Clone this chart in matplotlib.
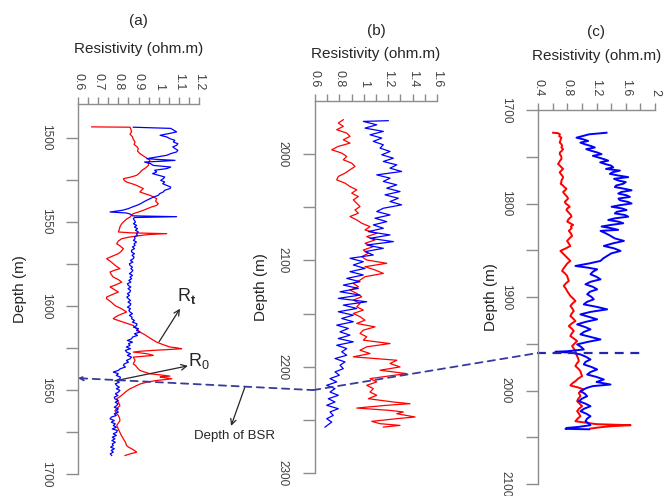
import numpy as np
import matplotlib
matplotlib.use('Agg')
import matplotlib.pyplot as plt
from matplotlib.patches import ConnectionPatch

plt.rcParams['font.family'] = ['Liberation Sans', 'DejaVu Sans']
plt.rcParams['mathtext.fontset'] = 'custom'
plt.rcParams['mathtext.rm'] = 'Liberation Sans'
plt.rcParams['mathtext.bf'] = 'Liberation Sans:bold'

# ---- well (a): (depth m, resistivity ohm.m)
a_rt = [(1493.6, 0.668), (1493.8, 0.858), (1495.0, 0.862), (1496.5, 0.866), (1498.0, 0.858), (1499.5, 0.870),
        (1501.0, 0.874), (1502.6, 0.883), (1504.0, 0.878), (1505.5, 0.893), (1506.5, 0.899), (1508.0, 0.895),
        (1509.5, 0.907), (1510.5, 0.920), (1511.5, 0.932), (1512.5, 0.945), (1513.5, 0.957), (1515.0, 0.950),
        (1516.5, 0.949), (1518.0, 0.935), (1519.5, 0.916), (1521.0, 0.905), (1522.4, 0.891), (1523.5, 0.860),
        (1524.4, 0.825), (1525.5, 0.830), (1526.4, 0.841), (1527.5, 0.870), (1528.4, 0.891), (1529.5, 0.910),
        (1530.3, 0.924), (1531.3, 0.915), (1532.3, 0.907), (1533.3, 0.930), (1534.3, 0.957), (1535.3, 0.975),
        (1536.3, 0.990), (1537.8, 0.985), (1539.3, 0.998), (1540.3, 0.990), (1541.2, 0.965), (1542.2, 0.945),
        (1543.2, 0.924), (1544.2, 0.900), (1545.2, 0.874), (1546.2, 0.865), (1547.2, 0.858), (1548.5, 0.840),
        (1550.2, 0.825), (1551.5, 0.815), (1553.1, 0.808), (1554.5, 0.805), (1556.1, 0.800), (1556.6, 0.860),
        (1557.1, 1.040), (1557.6, 0.950), (1558.1, 0.916), (1559.0, 0.860), (1560.1, 0.817), (1561.5, 0.800),
        (1563.1, 0.792), (1564.5, 0.810), (1566.0, 0.825), (1567.5, 0.815), (1569.0, 0.800), (1570.5, 0.770),
        (1572.0, 0.742), (1573.5, 0.760), (1575.0, 0.775), (1576.5, 0.790), (1577.9, 0.808), (1578.9, 0.780),
        (1579.9, 0.759), (1581.4, 0.765), (1582.9, 0.775), (1584.4, 0.800), (1585.9, 0.817), (1587.4, 0.790),
        (1588.8, 0.759), (1590.3, 0.780), (1591.8, 0.800), (1593.3, 0.770), (1594.8, 0.742), (1595.8, 0.742),
        (1597.8, 0.765), (1599.8, 0.783), (1601.7, 0.815), (1603.7, 0.841), (1604.7, 0.820), (1605.7, 0.800),
        (1606.7, 0.785), (1607.7, 0.775), (1608.7, 0.800), (1609.7, 0.825), (1610.7, 0.850), (1611.7, 0.874),
        (1613.6, 0.890), (1615.6, 0.907), (1617.1, 0.930), (1618.6, 0.949), (1620.1, 0.970), (1621.6, 0.990),
        (1623.0, 1.020), (1624.5, 1.056), (1625.0, 1.090), (1625.5, 1.114), (1626.0, 1.050), (1626.5, 0.973),
        (1627.0, 0.910), (1627.5, 0.874), (1628.0, 0.910), (1628.5, 0.941), (1629.0, 0.960), (1629.5, 0.973),
        (1630.0, 0.920), (1630.5, 0.874), (1631.5, 0.879), (1632.5, 0.883), (1633.5, 0.878), (1634.5, 0.874),
        (1635.5, 0.885), (1636.4, 0.891), (1637.4, 0.898), (1638.4, 0.907), (1639.4, 0.930), (1640.4, 0.957),
        (1641.1, 1.010), (1641.8, 1.056), (1642.1, 1.020), (1642.4, 1.007), (1642.9, 1.040), (1643.4, 1.065),
        (1644.4, 0.990), (1645.4, 0.941), (1646.4, 0.910), (1647.4, 0.891), (1648.4, 0.875), (1649.3, 0.858),
        (1650.8, 0.840), (1652.3, 0.825), (1653.8, 0.810), (1655.3, 0.792), (1657.3, 0.800), (1659.3, 0.808),
        (1660.8, 0.795), (1662.3, 0.783), (1663.8, 0.790), (1665.2, 0.800), (1666.7, 0.806), (1668.2, 0.808),
        (1669.7, 0.800), (1671.2, 0.792), (1673.2, 0.800), (1675.1, 0.808), (1677.1, 0.815), (1679.1, 0.825),
        (1681.1, 0.835), (1683.1, 0.841), (1684.0, 0.850), (1685.0, 0.866), (1686.0, 0.880), (1687.0, 0.891),
        (1688.0, 0.860), (1689.0, 0.833)]

a_r0 = [(1493.8, 0.874), (1494.5, 1.060), (1496.6, 1.089), (1497.6, 1.050), (1498.6, 1.007), (1499.6, 1.040),
        (1500.6, 1.056), (1501.6, 1.080), (1502.6, 1.073), (1503.6, 1.095), (1504.6, 1.089), (1505.5, 1.070),
        (1506.5, 1.081), (1507.5, 1.095), (1508.5, 1.089), (1509.5, 1.060), (1510.5, 1.040), (1511.5, 0.990),
        (1512.5, 0.941), (1513.0, 1.000), (1513.5, 1.081), (1514.0, 1.020), (1514.5, 0.930), (1515.5, 0.960),
        (1516.5, 0.973), (1517.5, 1.060), (1518.4, 1.040), (1519.4, 0.980), (1520.4, 0.990), (1521.4, 0.970),
        (1522.4, 1.000), (1523.4, 1.030), (1524.4, 1.023), (1525.4, 1.010), (1526.4, 1.030), (1527.4, 1.020),
        (1528.4, 1.040), (1529.4, 1.060), (1530.3, 1.056), (1531.3, 1.030), (1532.3, 1.023), (1533.3, 1.005),
        (1534.3, 0.998), (1535.3, 0.975), (1536.3, 0.957), (1537.3, 0.940), (1538.3, 0.924), (1539.3, 0.910),
        (1540.3, 0.891), (1541.2, 0.870), (1542.2, 0.850), (1543.2, 0.820), (1544.2, 0.759), (1544.8, 0.840),
        (1545.5, 0.860), (1546.5, 0.870), (1547.0, 1.089), (1547.5, 0.880), (1548.2, 0.874), (1549.2, 0.880),
        (1550.2, 0.885), (1551.2, 0.875), (1552.2, 0.891), (1553.2, 0.880), (1554.1, 0.895), (1555.1, 0.885),
        (1556.1, 0.899), (1557.1, 0.890), (1558.1, 0.895), (1559.1, 0.880), (1560.1, 0.883), (1561.1, 0.875),
        (1562.1, 0.890), (1563.1, 0.878), (1564.1, 0.883), (1565.0, 0.870), (1566.0, 0.880), (1567.0, 0.865),
        (1568.0, 0.866), (1569.0, 0.880), (1570.0, 0.868), (1571.0, 0.878), (1572.0, 0.874), (1573.0, 0.860),
        (1574.0, 0.872), (1575.0, 0.855), (1576.0, 0.858), (1577.0, 0.870), (1577.9, 0.862), (1578.9, 0.872),
        (1579.9, 0.866), (1580.9, 0.855), (1581.9, 0.870), (1582.9, 0.858), (1583.9, 0.866), (1584.9, 0.852),
        (1585.9, 0.862), (1586.9, 0.845), (1587.9, 0.850), (1588.8, 0.862), (1589.8, 0.848), (1590.8, 0.860),
        (1591.8, 0.858), (1592.8, 0.845), (1593.8, 0.855), (1594.8, 0.842), (1595.8, 0.850), (1596.8, 0.860),
        (1597.8, 0.848), (1598.8, 0.862), (1599.8, 0.858), (1600.8, 0.845), (1601.7, 0.860), (1602.7, 0.852),
        (1603.7, 0.858), (1604.7, 0.870), (1605.7, 0.855), (1606.7, 0.868), (1607.7, 0.866), (1608.7, 0.880),
        (1609.7, 0.870), (1610.7, 0.892), (1611.7, 0.891), (1612.7, 0.875), (1613.6, 0.900), (1614.6, 0.890),
        (1615.6, 0.907), (1616.6, 0.880), (1617.6, 0.895), (1618.6, 0.870), (1619.6, 0.866), (1620.6, 0.845),
        (1621.6, 0.870), (1622.5, 0.850), (1623.5, 0.858), (1624.5, 0.840), (1625.5, 0.860), (1626.5, 0.835),
        (1627.5, 0.841), (1628.5, 0.860), (1629.5, 0.845), (1630.5, 0.865), (1631.5, 0.858), (1632.5, 0.840),
        (1633.5, 0.850), (1634.5, 0.830), (1635.4, 0.825), (1636.4, 0.835), (1637.4, 0.810), (1638.4, 0.800),
        (1639.4, 0.775), (1640.4, 0.800), (1641.4, 0.790), (1642.4, 0.810), (1643.4, 0.808), (1644.4, 0.790),
        (1645.4, 0.805), (1646.4, 0.785), (1647.4, 0.792), (1648.4, 0.805), (1649.3, 0.790), (1650.3, 0.808),
        (1651.3, 0.800), (1652.3, 0.785), (1653.3, 0.798), (1654.3, 0.780), (1655.3, 0.783), (1656.3, 0.800),
        (1657.3, 0.785), (1658.3, 0.798), (1659.3, 0.792), (1660.3, 0.780), (1661.3, 0.800), (1662.3, 0.790),
        (1663.2, 0.800), (1664.2, 0.780), (1665.2, 0.790), (1666.2, 0.765), (1667.2, 0.759), (1668.2, 0.780),
        (1669.2, 0.765), (1670.2, 0.785), (1671.2, 0.775), (1672.2, 0.790), (1673.2, 0.770), (1674.1, 0.795),
        (1675.1, 0.792), (1676.1, 0.775), (1677.1, 0.790), (1678.1, 0.770), (1679.1, 0.783), (1680.1, 0.768),
        (1681.1, 0.785), (1682.1, 0.770), (1683.1, 0.775), (1684.0, 0.762), (1685.0, 0.780), (1686.0, 0.765),
        (1687.0, 0.775), (1688.0, 0.760), (1689.0, 0.767)]

# ---- well (b)
b_rt = [(1967.6, 0.832), (1970.7, 0.791), (1973.9, 0.832), (1977.0, 0.778), (1980.2, 0.860), (1983.3, 0.887),
        (1986.5, 0.832), (1989.6, 0.887), (1992.7, 0.791), (1995.9, 0.737), (1999.0, 0.819), (2002.2, 0.860),
        (2005.3, 0.832), (2008.5, 0.901), (2011.6, 0.928), (2014.7, 0.887), (2017.9, 0.846), (2021.0, 0.791),
        (2024.2, 0.778), (2027.3, 0.846), (2030.5, 0.887), (2033.6, 0.942), (2036.7, 0.901), (2039.9, 0.955),
        (2043.0, 0.914), (2046.2, 0.942), (2049.3, 0.969), (2052.5, 0.928), (2055.6, 0.955), (2058.7, 0.887),
        (2061.9, 0.942), (2065.0, 0.983), (2068.2, 1.051), (2071.3, 1.010), (2074.5, 1.106), (2077.6, 1.024),
        (2080.7, 1.092), (2083.9, 1.010), (2087.0, 1.078), (2090.2, 0.996), (2093.3, 1.037), (2096.5, 0.983),
        (2099.6, 1.024), (2102.7, 1.188), (2105.9, 1.010), (2109.0, 1.092), (2112.2, 1.160), (2115.3, 1.010),
        (2118.5, 0.969), (2121.6, 0.914), (2124.7, 0.955), (2127.9, 0.887), (2131.0, 0.942), (2134.2, 0.983),
        (2137.3, 0.914), (2140.5, 0.969), (2143.6, 0.942), (2146.7, 0.996), (2149.9, 0.914), (2153.0, 0.969),
        (2156.2, 1.010), (2159.3, 0.942), (2162.5, 1.092), (2165.6, 0.996), (2168.7, 0.969), (2171.9, 1.024),
        (2175.0, 0.996), (2178.2, 1.215), (2181.3, 1.024), (2184.5, 0.969), (2187.6, 1.051), (2190.7, 0.914),
        (2193.9, 1.270), (2197.0, 1.215), (2200.2, 1.297), (2203.3, 1.133), (2206.5, 1.352), (2209.0, 1.188),
        (2211.2, 1.051), (2214.3, 1.106), (2217.5, 1.024), (2220.6, 1.078), (2223.8, 1.051), (2226.9, 1.106),
        (2230.1, 1.037), (2233.2, 1.242), (2234.8, 1.379), (2236.3, 1.188), (2238.9, 0.942), (2241.1, 1.215),
        (2242.6, 1.324), (2244.2, 1.270), (2247.3, 1.420), (2248.9, 1.270), (2251.4, 1.065), (2253.6, 1.133),
        (2255.2, 1.297), (2256.8, 1.160)]

b_r0 = [(1968.5, 1.200), (1969.2, 0.996), (1972.4, 1.106), (1975.5, 1.010), (1978.6, 1.160), (1981.8, 1.051),
        (1984.9, 1.147), (1988.0, 1.078), (1991.2, 1.160), (1994.3, 1.133), (1997.5, 1.215), (2000.6, 1.147),
        (2003.8, 1.242), (2006.9, 1.160), (2010.1, 1.270), (2013.2, 1.215), (2016.3, 1.310), (2019.5, 1.106),
        (2022.6, 1.215), (2025.7, 1.160), (2028.9, 1.270), (2032.0, 1.188), (2035.2, 1.297), (2038.3, 1.174),
        (2041.5, 1.283), (2044.6, 1.215), (2047.7, 1.310), (2050.9, 1.160), (2054.0, 1.106), (2057.2, 1.215),
        (2060.3, 1.092), (2063.5, 1.188), (2066.6, 1.078), (2069.7, 1.160), (2072.9, 1.037), (2076.0, 1.215),
        (2079.2, 1.051), (2082.3, 1.242), (2085.5, 1.024), (2088.6, 1.160), (2091.7, 1.010), (2094.9, 1.078),
        (2098.0, 0.887), (2101.2, 0.996), (2104.3, 0.914), (2107.5, 1.010), (2110.6, 0.887), (2113.7, 0.996),
        (2116.9, 0.860), (2120.0, 0.969), (2123.2, 0.832), (2126.3, 0.955), (2129.5, 0.805), (2132.6, 0.969),
        (2135.7, 0.791), (2138.9, 1.024), (2142.0, 0.832), (2145.2, 0.942), (2148.3, 0.791), (2151.5, 0.914),
        (2154.6, 0.819), (2157.7, 0.914), (2160.9, 0.778), (2164.0, 0.873), (2167.2, 0.805), (2170.3, 0.887),
        (2173.5, 0.791), (2176.6, 0.914), (2179.8, 0.778), (2182.9, 0.860), (2186.0, 0.819), (2189.2, 0.860),
        (2192.3, 0.764), (2195.5, 0.846), (2198.6, 0.805), (2201.8, 0.832), (2204.9, 0.764), (2208.0, 0.800),
        (2211.2, 0.723), (2214.3, 0.778), (2217.5, 0.696), (2220.6, 0.764), (2223.8, 0.723), (2226.9, 0.791),
        (2230.1, 0.709), (2233.2, 0.764), (2236.3, 0.696), (2239.5, 0.791), (2242.6, 0.723), (2245.8, 0.750),
        (2248.9, 0.696), (2252.1, 0.737), (2256.8, 0.682)]

# ---- well (c)
c_rt = [(1724.3, 0.606), (1724.8, 0.674), (1726.0, 0.700), (1728.0, 0.690), (1729.6, 0.720), (1731.3, 0.710),
        (1733.0, 0.705), (1734.8, 0.697), (1736.6, 0.720), (1738.3, 0.730), (1740.1, 0.720), (1741.9, 0.743),
        (1743.7, 0.725), (1745.4, 0.700), (1747.2, 0.697), (1749.0, 0.715), (1750.7, 0.720), (1752.5, 0.720),
        (1754.3, 0.700), (1756.0, 0.690), (1757.8, 0.674), (1759.5, 0.700), (1761.3, 0.720), (1763.0, 0.743),
        (1764.8, 0.720), (1766.6, 0.697), (1768.3, 0.710), (1770.1, 0.730), (1771.8, 0.743), (1773.6, 0.735),
        (1775.4, 0.720), (1777.1, 0.720), (1778.9, 0.710), (1780.7, 0.740), (1782.4, 0.760), (1784.2, 0.789),
        (1786.0, 0.770), (1787.7, 0.743), (1789.5, 0.760), (1791.2, 0.780), (1793.0, 0.800), (1794.7, 0.811),
        (1796.5, 0.790), (1798.3, 0.766), (1800.0, 0.780), (1801.8, 0.810), (1803.5, 0.834), (1805.3, 0.800),
        (1807.0, 0.789), (1808.8, 0.810), (1810.6, 0.830), (1812.3, 0.850), (1814.1, 0.857), (1815.8, 0.830),
        (1817.6, 0.811), (1819.4, 0.800), (1821.1, 0.840), (1822.9, 0.880), (1824.6, 0.850), (1826.4, 0.860),
        (1829.3, 0.821), (1832.0, 0.850), (1834.6, 0.866), (1837.3, 0.830), (1840.0, 0.798), (1842.7, 0.820),
        (1845.4, 0.843), (1848.0, 0.780), (1850.7, 0.706), (1853.4, 0.740), (1856.1, 0.775), (1858.8, 0.810),
        (1861.4, 0.843), (1864.1, 0.800), (1866.8, 0.775), (1869.4, 0.750), (1872.1, 0.729), (1874.8, 0.770),
        (1877.5, 0.798), (1880.2, 0.810), (1882.9, 0.821), (1885.5, 0.780), (1888.2, 0.752), (1890.9, 0.780),
        (1893.6, 0.798), (1896.2, 0.820), (1898.9, 0.843), (1901.6, 0.880), (1904.3, 0.912), (1907.0, 0.870),
        (1909.6, 0.843), (1912.3, 0.870), (1915.0, 0.889), (1917.7, 0.860), (1920.4, 0.843), (1923.0, 0.880),
        (1925.7, 0.912), (1928.4, 0.860), (1931.1, 0.821), (1933.7, 0.860), (1936.4, 0.889), (1939.1, 0.860),
        (1941.8, 0.843), (1944.4, 0.890), (1947.1, 0.935), (1949.8, 0.900), (1952.5, 0.866), (1955.2, 0.890),
        (1957.9, 0.912), (1960.5, 0.920), (1963.2, 0.935), (1965.9, 0.950), (1968.6, 0.958), (1971.2, 0.930),
        (1973.9, 0.912), (1976.6, 0.950), (1979.3, 0.980), (1982.0, 0.990), (1984.6, 1.003), (1987.3, 0.950),
        (1990.0, 0.912), (1992.3, 0.870), (1994.6, 0.843), (1996.8, 0.950), (1998.9, 1.026), (2000.7, 0.990),
        (2002.5, 0.958), (2004.3, 0.970), (2006.1, 0.980), (2008.8, 0.950), (2011.4, 0.935), (2014.1, 0.970),
        (2016.8, 1.003), (2019.5, 0.960), (2022.1, 0.935), (2024.8, 0.960), (2027.5, 0.980), (2030.2, 0.940),
        (2032.9, 0.912), (2034.6, 1.072), (2036.0, 1.200), (2037.1, 1.666), (2038.2, 1.400), (2039.3, 1.255),
        (2040.7, 1.118)]

c_r0 = [(1724.3, 1.337), (1726.0, 1.100), (1729.6, 0.926), (1731.4, 1.020), (1733.1, 1.086), (1734.9, 0.980),
        (1736.6, 1.040), (1738.4, 1.120), (1740.1, 1.177), (1741.9, 1.060), (1743.7, 1.131), (1745.4, 1.210),
        (1747.2, 1.269), (1749.0, 1.150), (1750.7, 1.223), (1752.5, 1.300), (1754.2, 1.360), (1756.0, 1.250),
        (1757.7, 1.314), (1759.5, 1.400), (1761.3, 1.429), (1763.0, 1.330), (1764.8, 1.520), (1766.6, 1.420),
        (1768.3, 1.383), (1770.1, 1.500), (1771.8, 1.634), (1773.6, 1.440), (1775.4, 1.497), (1777.1, 1.600),
        (1778.9, 1.566), (1780.7, 1.470), (1782.4, 1.451), (1784.2, 1.580), (1785.9, 1.680), (1787.7, 1.540),
        (1789.4, 1.497), (1791.2, 1.610), (1793.0, 1.657), (1794.7, 1.500), (1796.5, 1.520), (1798.3, 1.630),
        (1800.0, 1.680), (1801.8, 1.520), (1803.5, 1.406), (1805.3, 1.550), (1807.0, 1.611), (1808.8, 1.480),
        (1810.6, 1.451), (1812.3, 1.590), (1814.1, 1.634), (1815.9, 1.450), (1817.6, 1.360), (1819.4, 1.500),
        (1821.1, 1.566), (1822.9, 1.400), (1824.6, 1.269), (1826.4, 1.400), (1828.2, 1.497), (1829.3, 1.255),
        (1832.0, 1.330), (1834.6, 1.392), (1837.3, 1.450), (1840.0, 1.575), (1842.7, 1.420), (1845.4, 1.300),
        (1848.0, 1.440), (1850.7, 1.529), (1853.4, 1.400), (1856.1, 1.346), (1858.8, 1.290), (1861.4, 1.255),
        (1864.1, 1.100), (1866.8, 0.912), (1868.6, 1.080), (1870.4, 1.209), (1873.0, 1.150), (1875.7, 1.118),
        (1878.4, 1.200), (1881.1, 1.255), (1883.7, 1.120), (1886.4, 1.049), (1889.1, 1.150), (1891.8, 1.209),
        (1894.4, 1.110), (1897.1, 1.072), (1899.8, 1.130), (1902.5, 1.163), (1905.2, 1.070), (1907.9, 1.026),
        (1910.5, 1.200), (1913.2, 1.346), (1915.9, 1.120), (1918.6, 0.980), (1921.3, 1.100), (1923.9, 1.209),
        (1926.6, 1.050), (1929.3, 0.935), (1932.0, 1.040), (1934.6, 1.118), (1937.3, 1.030), (1940.0, 0.980),
        (1942.7, 1.120), (1945.4, 1.255), (1948.0, 1.080), (1950.7, 0.935), (1953.4, 0.990), (1956.1, 1.026),
        (1958.0, 0.800), (1958.6, 0.638), (1959.5, 0.850), (1961.4, 0.980), (1964.1, 1.060), (1966.8, 1.118),
        (1969.4, 1.050), (1972.1, 1.026), (1974.8, 1.130), (1977.5, 1.209), (1980.2, 1.120), (1982.9, 1.072),
        (1985.5, 1.200), (1988.2, 1.300), (1990.9, 1.200), (1993.6, 1.392), (1995.3, 1.150), (1997.1, 1.072),
        (1998.9, 1.020), (2000.7, 0.980), (2003.4, 1.040), (2006.1, 1.072), (2008.8, 1.000), (2011.4, 0.958),
        (2014.1, 1.050), (2016.8, 1.118), (2019.5, 1.030), (2022.1, 0.980), (2024.8, 1.060), (2027.5, 1.118),
        (2030.2, 1.070), (2032.9, 1.049), (2035.0, 1.090), (2037.1, 1.118), (2039.0, 0.950), (2040.0, 0.798),
        (2041.0, 0.775), (2041.5, 1.100)]

# depth of BSR picked in each well
bsr_depth = [1643, 2222, 1960]

W, H = 664, 496
fig = plt.figure(figsize=(W / 100, H / 100), dpi=100)

grey = '#8c8c8c'
txt = '#262626'


def make_ax(left, top, right, bottom):
    return fig.add_axes([left / W, 1 - bottom / H, (right - left) / W, (bottom - top) / H])


def style(ax, xlim, ylim, xmaj, xmin, ymaj, ymin, box, title, title_base, xlab_base, ylab_right):
    left, top, right, bottom = box
    ax.set_xlim(*xlim)
    ax.set_ylim(ylim[1], ylim[0])
    ax.patch.set_visible(False)
    ax.xaxis.tick_top()
    ax.xaxis.set_label_position('top')
    for s in ['right', 'bottom']:
        ax.spines[s].set_visible(False)
    for s in ['left', 'top']:
        ax.spines[s].set_color(grey)
        ax.spines[s].set_linewidth(1.0)
    ax.set_xticks(xmaj, [f'{v:g}' for v in xmaj])
    ax.set_xticks(xmin, minor=True)
    ax.set_yticks(ymaj, [str(v) for v in ymaj])
    ax.set_yticks(ymin, minor=True)
    ax.tick_params(axis='x', which='both', length=5, width=1, color=grey, pad=5,
                   labelsize=9, labelcolor='#404040', labelrotation=-90)
    ax.tick_params(axis='y', which='both', length=9, width=1, color=grey, pad=10,
                   labelsize=8.5, labelcolor='#404040', labelrotation=-90)
    for lab in ax.get_yticklabels():
        lab.set_va('center')
    h = bottom - top
    ax.set_xlabel('Resistivity (ohm.m)', fontsize=11, color=txt)
    ax.xaxis.set_label_coords(0.5, (bottom - xlab_base) / h)
    ax.set_ylabel('Depth (m)', fontsize=11, color=txt)
    ax.yaxis.set_label_coords((ylab_right - left) / (right - left), 0.5)
    ax.text(0.5, (bottom - title_base) / h, title, transform=ax.transAxes,
            ha='center', va='baseline', fontsize=11, color=txt)


wells = [
    dict(rt=a_rt, r0=a_r0, box=(78, 104, 199, 474), xlim=(0.6, 1.2), ylim=(1480, 1700),
         xmaj=[0.6, 0.7, 0.8, 0.9, 1.0, 1.1, 1.2], xmin=[0.65, 0.75, 0.85, 0.95, 1.05, 1.15],
         ymaj=[1500, 1550, 1600, 1650, 1700], ymin=[1525, 1575, 1625, 1675],
         title='(a)', title_base=25, xlab_base=53, ylab_right=27, lw=0.9),
    dict(rt=b_rt, r0=b_r0, box=(315, 101, 437, 473), xlim=(0.6, 1.6), ylim=(1950, 2300),
         xmaj=[0.6, 0.8, 1.0, 1.2, 1.4, 1.6], xmin=[0.7, 0.9, 1.1, 1.3, 1.5],
         ymaj=[2000, 2100, 2200, 2300], ymin=[2050, 2150, 2250],
         title='(b)', title_base=35, xlab_base=58, ylab_right=268, lw=0.9),
    dict(rt=c_rt, r0=c_r0, box=(538, 110, 655, 484), xlim=(0.4, 2.0), ylim=(1700, 2100),
         xmaj=[0.4, 0.8, 1.2, 1.6, 2.0], xmin=[0.6, 1.0, 1.4, 1.8],
         ymaj=[1700, 1800, 1900, 2000, 2100], ymin=[1750, 1850, 1950, 2050],
         title='(c)', title_base=36, xlab_base=60, ylab_right=498, lw=1.4),
]

axes = []
for w in wells:
    ax = make_ax(*w['box'])
    rt = np.array(w['rt'])
    r0 = np.array(w['r0'])
    ax.plot(rt[:, 1], rt[:, 0], color='#ff0000', lw=w['lw'])
    ax.plot(r0[:, 1], r0[:, 0], color='#0000ff', lw=w['lw'])
    style(ax, w['xlim'], w['ylim'], w['xmaj'], w['xmin'], w['ymaj'], w['ymin'], w['box'],
          w['title'], w['title_base'], w['xlab_base'], w['ylab_right'])
    axes.append(ax)

ax_a, ax_b, ax_c = axes

# BSR dashed correlation line
bsr_col = '#3a3a9a'
dash = (0, (4, 3))
con1 = ConnectionPatch(xyA=(0.6, bsr_depth[0]), coordsA=ax_a.transData,
                       xyB=(0.585, bsr_depth[1]), coordsB=ax_b.transData,
                       color=bsr_col, lw=1.3, linestyle=dash, arrowstyle='<-',
                       mutation_scale=7, shrinkA=0, shrinkB=0)
fig.add_artist(con1)
con2 = ConnectionPatch(xyA=(0.585, bsr_depth[1]), coordsA=ax_b.transData,
                       xyB=(0.39, bsr_depth[2]), coordsB=ax_c.transData,
                       color=bsr_col, lw=1.3, linestyle=dash)
fig.add_artist(con2)
ax_c.plot([0.39, 1.82], [bsr_depth[2], bsr_depth[2]], color='#2525b0', lw=1.6,
          linestyle=(0, (4, 3)), clip_on=False)

# labels on well (a)
arr = dict(arrowstyle='->', color='#262626', lw=0.9, shrinkA=0, shrinkB=0, mutation_scale=10)
ax_a.annotate('', xy=(1.106, 1601.7), xytext=(1.002, 1621.4), arrowprops=arr, annotation_clip=False)
ax_a.text(1.138, 1594, r'R$_\mathbf{t}$', fontsize=13, ha='center', va='center', color=txt)
ax_a.annotate('', xy=(1.145, 1635.7), xytext=(0.783, 1644.6), arrowprops=arr, annotation_clip=False)
ax_a.text(1.20, 1633, r'R$_0$', fontsize=13, ha='center', va='center', color=txt)
ax_a.annotate('', xy=(1.359, 1671.4), xytext=(1.428, 1648.2), arrowprops=arr, annotation_clip=False)
ax_a.text(1.378, 1677.5, 'Depth of BSR', fontsize=9.5, ha='center', va='center', color=txt)

fig.savefig('out.png', dpi=100)
